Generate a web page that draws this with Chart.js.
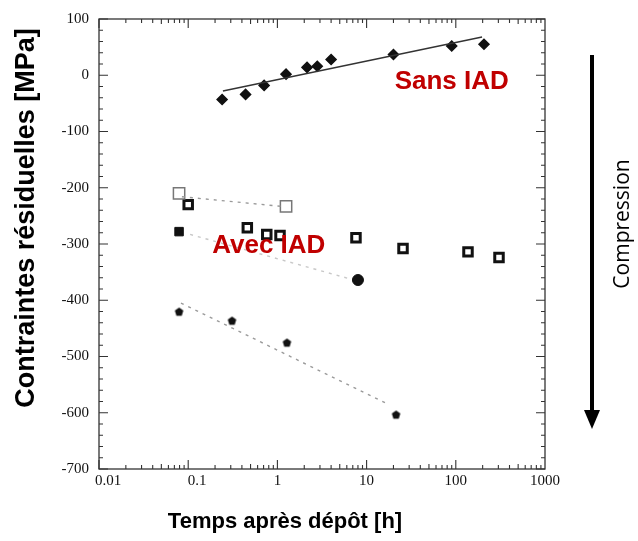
<!DOCTYPE html>
<html>
<head>
<meta charset="utf-8">
<script src="https://cdn.jsdelivr.net/npm/chart.js@4.4.1/dist/chart.umd.min.js"></script>
<style>
  html, body { margin: 0; padding: 0; background: #fff; }
  #wrap { width: 638px; height: 541px; }
</style>
</head>
<body>
<div id="wrap"><canvas id="chart" width="638" height="541"></canvas></div>
<script>
// values (time in h, stress in MPa)
const sansTimes = [0.24, 0.44, 0.71, 1.25, 2.15, 2.8, 4.0, 20, 90, 207];
const sansStress = [-43, -34, -18, 2, 14, 16, 28, 37, 52, 55];
const sansFitTimes = [0.245, 197];
const sansFitStress = [-28, 68];

const openSqTimes = [0.079, 1.25];
const openSqStress = [-210, -233];
const openFitTimes = [0.085, 1.1];
const openFitStress = [-216, -233];

const boldSqTimes = [0.1, 0.46, 0.76, 1.07, 7.6, 25.6, 137, 305];
const boldSqStress = [-230, -271, -283, -285, -289, -308, -314, -324];

const filledTimes = [0.079, 8.0];
const filledStress = [-278, -364];
const filledFitTimes = [0.105, 6.5];
const filledFitStress = [-283, -362];

const starTimes = [0.079, 0.31, 1.28, 21.4];
const starStress = [-421, -437, -476, -604];
const starFitTimes = [0.083, 17.5];
const starFitStress = [-405, -585];

const xTickValues = [0.01, 0.1, 1, 10, 100, 1000];
const xTickLabels = ["0.01", "0.1", "1", "10", "100", "1000"];
const yTickValues = [100, 0, -100, -200, -300, -400, -500, -600, -700];

function pts(xs, ys) {
  return xs.map((x, i) => ({ x: x, y: ys[i] }));
}

// small filled pentagon used for the star markers
function pentagon(r) {
  const c = document.createElement("canvas");
  c.width = c.height = r * 2 + 2;
  const g = c.getContext("2d");
  g.fillStyle = "#111";
  g.beginPath();
  for (let i = 0; i < 5; i++) {
    const a = -Math.PI / 2 + i * 2 * Math.PI / 5;
    const px = r + 1 + r * Math.cos(a);
    const py = r + 1 + r * Math.sin(a);
    if (i === 0) g.moveTo(px, py); else g.lineTo(px, py);
  }
  g.closePath();
  g.fill();
  return c;
}

const framePlugin = {
  id: "frame",
  beforeDatasetsDraw(chart) {
    const { ctx, chartArea: a, scales } = chart;
    const xs = scales.x, ys = scales.y;
    ctx.save();
    ctx.strokeStyle = "#333";
    ctx.lineWidth = 1.3;
    ctx.strokeRect(a.left, a.top, a.right - a.left, a.bottom - a.top);

    ctx.lineWidth = 1.1;
    ctx.beginPath();
    // log ticks on top & bottom, pointing inwards
    for (let d = -2; d < 3; d++) {
      for (let m = 1; m < 10; m++) {
        const v = m * Math.pow(10, d);
        const px = xs.getPixelForValue(v);
        const len = m === 1 ? 9 : (m === 5 ? 5 : 4);
        ctx.moveTo(px, a.bottom); ctx.lineTo(px, a.bottom - len);
        ctx.moveTo(px, a.top); ctx.lineTo(px, a.top + len);
      }
    }
    // linear ticks on left & right every 20 MPa
    for (let v = -700; v <= 100; v += 20) {
      const py = ys.getPixelForValue(v);
      const len = v % 100 === 0 ? 9 : 4;
      ctx.moveTo(a.left, py); ctx.lineTo(a.left + len, py);
      ctx.moveTo(a.right, py); ctx.lineTo(a.right - len, py);
    }
    ctx.stroke();
    ctx.restore();
  },
  afterDraw(chart) {
    const { ctx, chartArea: a, scales } = chart;
    const xs = scales.x, ys = scales.y;
    ctx.save();
    ctx.fillStyle = "#111";
    ctx.font = "15px 'Liberation Serif'";
    ctx.textAlign = "right";
    ctx.textBaseline = "middle";
    yTickValues.forEach(v => {
      ctx.fillText(String(v), a.left - 10, ys.getPixelForValue(v));
    });
    ctx.textAlign = "center";
    ctx.textBaseline = "top";
    xTickValues.forEach((v, i) => {
      ctx.fillText(xTickLabels[i], xs.getPixelForValue(v) + (v < 1 ? 9 : 0), a.bottom + 5);
    });

    // axis titles
    ctx.fillStyle = "#000";
    ctx.font = "bold 22px 'Liberation Sans'";
    ctx.textBaseline = "middle";
    ctx.fillText("Temps après dépôt [h]", 285, 522);
    ctx.save();
    ctx.translate(27, 218);
    ctx.rotate(-Math.PI / 2);
    ctx.font = "bold 27px 'Liberation Sans'";
    ctx.fillText("Contraintes résiduelles [MPa]", 0, 0);
    ctx.restore();

    // series labels
    ctx.fillStyle = "#c00000";
    ctx.font = "bold 26px 'Liberation Sans'";
    ctx.fillText("Sans IAD", xs.getPixelForValue(90), ys.getPixelForValue(-11));
    ctx.fillText("Avec IAD", xs.getPixelForValue(0.8), ys.getPixelForValue(-303));

    // compression arrow
    ctx.strokeStyle = "#000";
    ctx.fillStyle = "#000";
    ctx.lineWidth = 4;
    ctx.beginPath();
    ctx.moveTo(592, 55);
    ctx.lineTo(592, 412);
    ctx.stroke();
    ctx.beginPath();
    ctx.moveTo(584, 410);
    ctx.lineTo(600, 410);
    ctx.lineTo(592, 429);
    ctx.closePath();
    ctx.fill();

    ctx.save();
    ctx.translate(623, 224);
    ctx.rotate(-Math.PI / 2);
    ctx.font = "21px 'Open Sans'";
    ctx.fillStyle = "#000";
    ctx.fillText("Compression", 0, 0);
    ctx.restore();
    ctx.restore();
  }
};

const dotted = { showLine: true, pointRadius: 0, borderColor: "#9a9a9a", borderWidth: 1.4, borderDash: [3, 5] };

new Chart(document.getElementById("chart"), {
  type: "scatter",
  data: {
    datasets: [
      { data: pts(sansFitTimes, sansFitStress), showLine: true, pointRadius: 0, borderColor: "#333", borderWidth: 1.3 },
      Object.assign({ data: pts(openFitTimes, openFitStress) }, dotted),
      Object.assign({ data: pts(filledFitTimes, filledFitStress) }, dotted, { borderColor: "#c8c8c8" }),
      Object.assign({ data: pts(starFitTimes, starFitStress) }, dotted),
      { data: pts(sansTimes, sansStress), pointStyle: "rectRot", pointRadius: 5, backgroundColor: "#111", borderColor: "#111", borderWidth: 1.5, pointBorderJoinStyle: "round" },
      { data: pts(openSqTimes, openSqStress), pointStyle: "rect", pointRadius: 8, backgroundColor: "rgba(255,255,255,0)", borderColor: "#777", borderWidth: 1.5 },
      { data: pts(boldSqTimes, boldSqStress), pointStyle: "rect", pointRadius: 6, backgroundColor: "#fff", borderColor: "#111", borderWidth: 3 },
      { data: pts(filledTimes, filledStress), pointStyle: ["rect", "circle"], pointRadius: [6, 5.5], backgroundColor: "#111", borderColor: "#111", borderWidth: 1 },
      { data: pts(starTimes, starStress), pointStyle: pentagon(4.5) }
    ]
  },
  options: {
    responsive: false,
    animation: false,
    layout: { padding: { left: 99, top: 19, right: 93, bottom: 72 } },
    plugins: { legend: { display: false }, tooltip: { enabled: false } },
    scales: {
      x: { type: "logarithmic", min: 0.01, max: 1000, display: false },
      y: { type: "linear", min: -700, max: 100, display: false }
    }
  },
  plugins: [framePlugin]
});
</script>
</body>
</html>
